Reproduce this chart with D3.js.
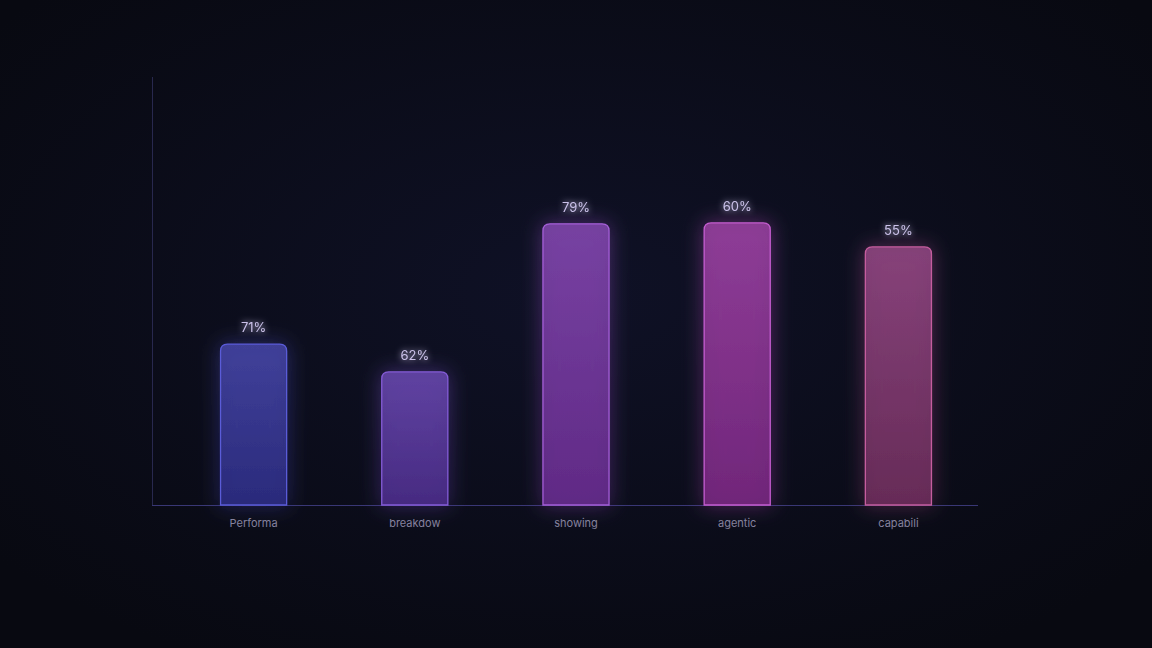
<!DOCTYPE html>
<html>
<head>
<meta charset="utf-8">
<script src="https://cdn.jsdelivr.net/npm/d3@7"></script>
<style>
  html, body { margin: 0; padding: 0; background: #0a0b16; }
  svg { display: block; }
</style>
</head>
<body>
<svg id="chart" width="1152" height="648"></svg>
<script>
// data
const categories = ["Performa", "breakdow", "showing", "agentic", "capabili"];
const barValues = [37.6, 31.1, 65.7, 65.9, 60.3];   // bar heights (% of axis)
const valueLabels = ["71%", "62%", "79%", "60%", "55%"];
const fillTop = ["#4444a2", "#6546aa", "#7e45aa", "#96409e", "#8e4580"];
const fillBottom = ["#2c2c82", "#4a2c88", "#652b8c", "#772780", "#6c2d5b"];
const strokes = ["#5a5bd8", "#855cd8", "#a45fd8", "#c55dd0", "#c55d9e"];

const width = 1152, height = 648;
const margin = { top: 77, right: 174, bottom: 143, left: 152 };

const svg = d3.select("#chart");
const defs = svg.append("defs");

// background glow
const bg = defs.append("radialGradient").attr("id", "bg")
  .attr("cx", "50%").attr("cy", "45%").attr("r", "65%");
bg.append("stop").attr("offset", "0%").attr("stop-color", "#0f1126");
bg.append("stop").attr("offset", "100%").attr("stop-color", "#080911");
svg.append("rect").attr("width", width).attr("height", height).attr("fill", "url(#bg)");

// soft glow filter for bars and labels
const glow = defs.append("filter").attr("id", "glow")
  .attr("x", "-50%").attr("y", "-20%").attr("width", "200%").attr("height", "140%");
glow.append("feGaussianBlur").attr("in", "SourceGraphic").attr("stdDeviation", 10).attr("result", "b");
glow.append("feComponentTransfer").attr("in", "b").attr("result", "bf")
  .append("feFuncA").attr("type", "linear").attr("slope", 0.6);
const gm = glow.append("feMerge");
gm.append("feMergeNode").attr("in", "bf");
gm.append("feMergeNode").attr("in", "SourceGraphic");

const tglow = defs.append("filter").attr("id", "tglow")
  .attr("x", "-30%").attr("y", "-50%").attr("width", "160%").attr("height", "200%");
tglow.append("feGaussianBlur").attr("in", "SourceGraphic").attr("stdDeviation", 3).attr("result", "b");
const tm = tglow.append("feMerge");
tm.append("feMergeNode").attr("in", "b");
tm.append("feMergeNode").attr("in", "SourceGraphic");

categories.forEach((c, i) => {
  const g = defs.append("linearGradient").attr("id", "bar" + i)
    .attr("x1", 0).attr("y1", 0).attr("x2", 0).attr("y2", 1);
  g.append("stop").attr("offset", "0%").attr("stop-color", fillTop[i]);
  g.append("stop").attr("offset", "100%").attr("stop-color", fillBottom[i]);
});

const x = d3.scaleBand()
  .domain(categories)
  .range([margin.left + 21, width - margin.right + 1])
  .paddingInner(0.59)
  .paddingOuter(0.295);

const y = d3.scaleLinear()
  .domain([0, 100])
  .range([height - margin.bottom, margin.top]);

// axes lines
svg.append("line")
  .attr("x1", margin.left + 0.5).attr("x2", margin.left + 0.5)
  .attr("y1", y(100)).attr("y2", y(0))
  .attr("stroke", "#28284e").attr("stroke-width", 1);
svg.append("line")
  .attr("x1", margin.left).attr("x2", width - margin.right)
  .attr("y1", y(0) + 0.5).attr("y2", y(0) + 0.5)
  .attr("stroke", "#393775").attr("stroke-width", 1);

// rounded-top bar path
function barPath(x0, y0, w, h, r) {
  return `M${x0},${y0 + h} V${y0 + r} Q${x0},${y0} ${x0 + r},${y0} H${x0 + w - r} Q${x0 + w},${y0} ${x0 + w},${y0 + r} V${y0 + h} Z`;
}

const bars = svg.append("g");
bars.selectAll("path")
  .data(categories)
  .join("path")
  .attr("d", (d, i) => barPath(x(d), y(barValues[i]), x.bandwidth(), y(0) - y(barValues[i]), 7))
  .attr("fill", (d, i) => `url(#bar${i})`)
  .attr("fill-opacity", 0.88)
  .attr("stroke", (d, i) => strokes[i])
  .attr("stroke-width", 1.3)
  .attr("filter", "url(#glow)");

// value labels
svg.append("g").selectAll("text")
  .data(categories)
  .join("text")
  .attr("x", d => x(d) + x.bandwidth() / 2)
  .attr("y", (d, i) => y(barValues[i]) - 12)
  .attr("text-anchor", "middle")
  .attr("font-family", "Inter, 'Noto Sans', sans-serif")
  .attr("font-size", 13)
  .attr("fill", "#cbc2ea")
  .attr("filter", "url(#tglow)")
  .text((d, i) => valueLabels[i]);

// category labels
const xAxis = svg.append("g")
  .attr("transform", `translate(0,${y(0)})`)
  .call(d3.axisBottom(x).tickSize(0).tickPadding(14));
xAxis.select(".domain").remove();
xAxis.selectAll("text")
  .attr("font-family", "Inter, 'Noto Sans', sans-serif")
  .attr("font-size", 11)
  .attr("fill", "#85829e");
</script>
</body>
</html>
